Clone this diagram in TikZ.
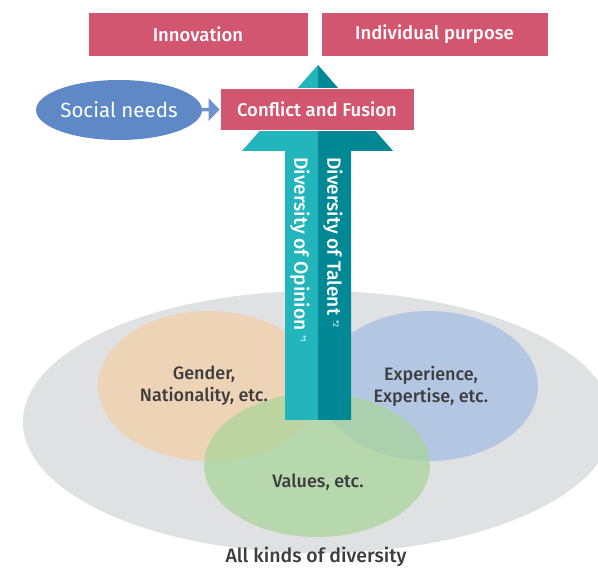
\documentclass[tikz,border=0pt]{standalone}
\usepackage{fontspec}
\setmainfont{Fira Sans}[BoldFont={Fira Sans Medium}]
\usetikzlibrary{shapes.geometric,arrows.meta}

\definecolor{boxpink}{HTML}{D2566F}
\definecolor{tealL}{HTML}{22B5BB}
\definecolor{tealD}{HTML}{008894}
\definecolor{socialblue}{HTML}{5E88C6}
\definecolor{arrowblue}{HTML}{6F92CC}
\definecolor{allgray}{HTML}{E0E1E3}
\definecolor{genderfill}{RGB}{245,207,165}
\definecolor{expfill}{RGB}{160,188,226}
\definecolor{valuefill}{RGB}{167,212,151}
\definecolor{labelgray}{HTML}{3D3D3D}

\tikzset{
    goalbox/.style={
        fill=boxpink,
        draw=white,
        line width=0.8pt,
        text=white,
        inner sep=0pt,
        minimum height=44pt,
        font=\bfseries\fontsize{18.5}{20}\selectfont
    },
    venn/.style={
        fill opacity=0.7
    },
    vennlabel/.style={
        text=labelgray,
        align=center,
        font=\bfseries\fontsize{18}{22}\selectfont
    },
    arrowlabel/.style={
        rotate=-90,
        anchor=west,
        text=white,
        inner sep=0pt,
        font=\bfseries\fontsize{19.2}{20}\selectfont
    }
}

\begin{document}
\begin{tikzpicture}[x=1pt, y=-1pt]
    \useasboundingbox (0,0) rectangle (598,569);
    \clip (0,0) rectangle (598,569);

    \fill[allgray] (318,422) ellipse (295 and 131);
    \fill[venn, genderfill] (209,386) ellipse (111 and 75);
    \fill[venn, expfill] (429,386) ellipse (109 and 75);
    \fill[venn, valuefill] (317,465) ellipse (113 and 72);

    \fill[tealL] (318,65) -- (242,151) -- (285,151) -- (285,420)
        -- (318,420) -- cycle;
    \fill[tealD] (318,65) -- (393,151) -- (351,151) -- (351,420)
        -- (318,420) -- cycle;

    \node[arrowlabel] (opinion) at (300,157) {
        Diversity of Opinion~{\mdseries\fontsize{8}{8}\selectfont\raisebox{6pt}{*1}}
    };
    \node[arrowlabel] (talent) at (333,157) {
        Diversity of Talent~{\mdseries\fontsize{8}{8}\selectfont\raisebox{6pt}{*2}}
    };

    \node[goalbox, minimum width=220pt] (innov) at (198,34) {Innovation};
    \node[goalbox, minimum width=227pt] (purpose) at (434.5,34) {Individual purpose};
    \node[goalbox, minimum width=194pt, minimum height=42pt] (conflict) at (317,109) {
        Conflict and Fusion
    };

    \node[
        ellipse,
        fill=socialblue,
        text=white,
        minimum width=134pt,
        minimum height=60pt,
        inner sep=0pt,
        font=\fontsize{20.5}{20}\selectfont
    ] (social) at (119,110) {Social needs};

    \draw[
        arrowblue,
        line width=3.5pt,
        -{Triangle[length=11pt, width=22pt]}
    ] (social) -- (conflict);

    \node[vennlabel] (gender) at (204,386) {
        Gender,\\
        Nationality, etc.
    };
    \node[vennlabel] (expertise) at (431,386) {
        Experience,\\
        Expertise, etc.
    };
    \node[vennlabel] (values) at (318,482) {Values, etc.};

    \node[
        text=labelgray,
        font=\bfseries\fontsize{19.5}{20}\selectfont
    ] (alldiv) at (316,557) {All kinds of diversity};
\end{tikzpicture}
\end{document}
